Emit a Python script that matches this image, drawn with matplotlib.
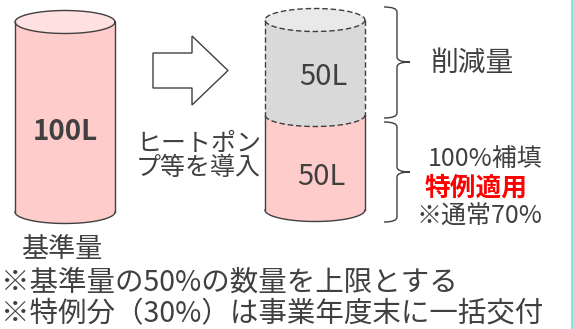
import numpy as np
import matplotlib
matplotlib.use("Agg")
import matplotlib.pyplot as plt
from matplotlib.patches import Polygon, PathPatch
from matplotlib.path import Path

plt.rcParams['font.family'] = ['Noto Sans CJK JP', 'DejaVu Sans']

# volumes (litres)
base_volume = 100
reduced_volume = 50
remaining_volume = 50

volume_labels = ["100L", "50L", "50L"]
arrow_text = ["ヒートポン", "プ等を導入"]
brace_text = ["削減量", "100%補填", "特例適用", "※通常70%"]
notes = ["基準量", "※基準量の50%の数量を上限とする", "※特例分（30%）は事業年度末に一括交付"]

TEXT = "#404040"
EDGE = "#404040"
PINK, PINK_TOP = "#ffcccc", "#ffe1e1"
GRAY, GRAY_TOP = "#d9d9d9", "#e9e9e9"
DASH = (0, (4, 2))

px_per_L = 1.9
cyl_w = 100
ell_h = 23

fig = plt.figure(figsize=(5.73, 3.29), dpi=100)
ax = fig.add_axes([0, 0, 1, 1])
ax.set_xlim(0, 573)
ax.set_ylim(329, 0)
ax.axis("off")

t = np.linspace(0, np.pi, 60)


def lower_arc(cx, cy):
    # visual lower half of the ellipse (y axis points down)
    return cx + cyl_w / 2 * np.cos(t), cy + ell_h / 2 * np.sin(t)


def body(cx, y_top, y_bot, fill, ls="-", top=True, top_fill=None, bottom=True):
    x0, x1 = cx - cyl_w / 2, cx + cyl_w / 2
    bx, by = lower_arc(cx, y_bot)
    pts = [(x0, y_top), (x1, y_top)] + list(zip(bx, by))
    ax.add_patch(Polygon(pts, closed=True, fc=fill, ec="none", zorder=1))
    ax.plot([x0, x0], [y_top, y_bot], color=EDGE, lw=1, ls=ls, zorder=3)
    ax.plot([x1, x1], [y_top, y_bot], color=EDGE, lw=1, ls=ls, zorder=3)
    if bottom:
        ax.plot(bx, by, color=EDGE, lw=1, ls=ls, zorder=3)
    if top:
        ex = cx + cyl_w / 2 * np.cos(2 * t)
        ey = y_top + ell_h / 2 * np.sin(2 * t)
        ax.add_patch(Polygon(list(zip(ex, ey)), closed=True, fc=top_fill, ec="none", zorder=2))
        ax.plot(ex, ey, color=EDGE, lw=1, ls=ls, zorder=3)


def label(x, y, s, size, **kw):
    kw.setdefault("color", TEXT)
    kw.setdefault("ha", "left")
    ax.text(x, y, s, va="baseline", fontsize=size, **kw)


# left cylinder: baseline
lx, ltop = 65, 22
body(lx, ltop, ltop + base_volume * px_per_L, PINK, top_fill=PINK_TOP)
label(lx, 140, volume_labels[0], 20, ha="center", fontweight="bold")

# right cylinder: reduced (grey, dashed) over remaining (pink)
rx, rtop = 315, 20
rmid = rtop + reduced_volume * px_per_L
rbot = rmid + remaining_volume * px_per_L
body(rx, rmid, rbot, PINK, top=False)
body(rx, rtop, rmid, GRAY, ls=DASH, top_fill=GRAY_TOP)
label(323, 85, volume_labels[1], 21, ha="center")
label(321, 185, volume_labels[2], 21, ha="center")

# block arrow
ax.add_patch(Polygon([(153, 53), (192, 53), (192, 36), (228, 70.5), (192, 105),
                      (192, 88), (153, 88)], closed=True, fc="white", ec=EDGE, lw=1))
label(136, 151, arrow_text[0], 18)
label(136, 175, arrow_text[1], 18)


def brace(y0, y1, ym, x0=384, xs=397, xt=410):
    r = 5
    verts = [(x0, y0), (xs, y0), (xs, y0 + r), (xs, ym - r), (xs, ym), (xt, ym),
             (xs, ym), (xs, ym + r), (xs, y1 - r), (xs, y1), (x0, y1)]
    codes = [Path.MOVETO, Path.CURVE3, Path.CURVE3, Path.LINETO, Path.CURVE3, Path.CURVE3,
             Path.CURVE3, Path.CURVE3, Path.LINETO, Path.CURVE3, Path.CURVE3]
    ax.add_patch(PathPatch(Path(verts, codes), fc="none", ec=EDGE, lw=1))


brace(7, 118, 62)
brace(122, 222, 172)

label(430, 71, brace_text[0], 20)
label(428, 166, brace_text[1], 18)
label(425, 196, brace_text[2], 18.5, fontweight="bold", color="#ff0000")
label(416, 224, brace_text[3], 18)

label(21, 257, notes[0], 19.5)
label(1, 291, notes[1], 20.5)
label(1, 322, notes[2], 20.5)

ax.plot([571.5, 571.5], [0, 329], color="#6fefdc", lw=1.5)

fig.savefig("out.png", dpi=100)
